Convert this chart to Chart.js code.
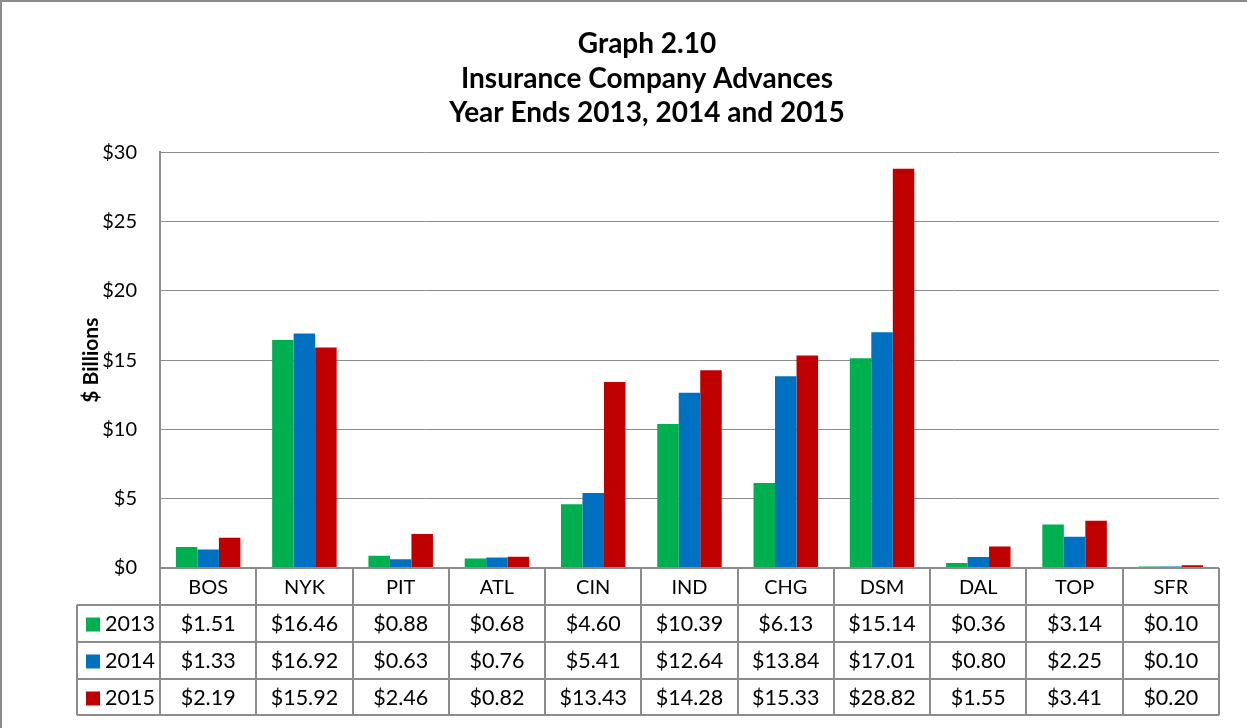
<!DOCTYPE html>
<html>
<head>
<meta charset="utf-8">
<script src="https://cdn.jsdelivr.net/npm/chart.js@4"></script>
<style>
	body { margin: 0; background: #fff; }
</style>
</head>
<body>
<canvas id="myCanvas" width="1247" height="728"></canvas>
<script>
let labels = ["BOS", "NYK", "PIT", "ATL", "CIN", "IND", "CHG", "DSM", "DAL", "TOP", "SFR"];
let years = ["2013", "2014", "2015"];
let list2013 = [1.51, 16.46, 0.88, 0.68, 4.6, 10.39, 6.13, 15.14, 0.36, 3.14, 0.1];
let list2014 = [1.33, 16.92, 0.63, 0.76, 5.41, 12.64, 13.84, 17.01, 0.8, 2.25, 0.1];
let list2015 = [2.19, 15.92, 2.46, 0.82, 13.43, 14.28, 15.33, 28.82, 1.55, 3.41, 0.2];
let yTicks = [0, 5, 10, 15, 20, 25, 30];

const fontName = "Lato";
const gridColor = "#8c8c8c";

// data table under the plot, drawn from the x scale
const tablePlugin = {
	id: "dataTable",
	afterDraw(chart) {
		const c = chart.ctx;
		const area = chart.chartArea;
		const xs = chart.scales.x;
		const n = labels.length;
		const w = (area.right - area.left) / n;
		const rowH = 37;
		const top = area.bottom;
		const legendLeft = 77;
		const bottom = top + rowH * 4 - 1;

		c.save();
		c.strokeStyle = gridColor;
		c.lineWidth = 2;
		c.beginPath();
		for (let i = 0; i <= n; i++) {
			const x = Math.round(area.left + i * w);
			c.moveTo(x, top);
			c.lineTo(x, bottom);
		}
		c.moveTo(area.left, top);
		c.lineTo(area.right, top);
		for (let r = 1; r <= 4; r++) {
			const y = Math.round(top + r * rowH - (r == 4 ? 1 : 0));
			c.moveTo(legendLeft, y);
			c.lineTo(area.right, y);
		}
		c.moveTo(legendLeft, top + rowH);
		c.lineTo(legendLeft, bottom);
		c.stroke();

		c.fillStyle = "#000";
		c.textAlign = "center";
		c.textBaseline = "middle";
		c.font = "20px " + fontName;
		labels.forEach((lab, i) => {
			c.fillText(lab, xs.getPixelForValue(i), top + rowH / 2 + 1);
		});
		c.font = "21.5px " + fontName;
		chart.data.datasets.forEach((ds, r) => {
			const y = top + rowH * (r + 1) + rowH / 2 + 1;
			ds.data.forEach((v, i) => {
				c.fillText("$" + v.toFixed(2), xs.getPixelForValue(i), y);
			});
			c.fillStyle = ds.backgroundColor;
			c.fillRect(86, y - 7, 14, 14);
			c.fillStyle = "#000";
			c.textAlign = "left";
			c.fillText(ds.label, 105, y);
			c.textAlign = "center";
		});

		// outer frame
		c.strokeStyle = "#8c8c8c";
		c.lineWidth = 2;
		c.beginPath();
		c.moveTo(1, 728);
		c.lineTo(1, 1);
		c.lineTo(1247, 1);
		c.stroke();
		c.restore();
	},
};

const ctx = document.getElementById("myCanvas").getContext("2d");
const myChart = new Chart(ctx, {
	type: "bar",
	data: {
		labels: labels,
		datasets: [
			{ label: years[0], data: list2013, backgroundColor: "#00b050" },
			{ label: years[1], data: list2014, backgroundColor: "#0070c0" },
			{ label: years[2], data: list2015, backgroundColor: "#c00000" },
		],
	},
	options: {
		responsive: false,
		animation: false,
		layout: {
			padding: { left: 75, right: 28, bottom: 160, top: 0 },
		},
		datasets: {
			bar: { categoryPercentage: 0.67, barPercentage: 1 },
		},
		plugins: {
			legend: { display: false },
			tooltip: { enabled: false },
			title: {
				display: true,
				text: ["Graph 2.10", "Insurance Company Advances", "Year Ends 2013, 2014 and 2015"],
				color: "#000",
				font: { family: fontName, size: 28, weight: "bold", lineHeight: 1.23 },
				padding: { top: 27, bottom: 22 },
			},
		},
		scales: {
			x: { display: false },
			y: {
				min: 0,
				max: 30,
				afterFit(scale) {
					scale.width = 85;
				},
				afterBuildTicks(scale) {
					scale.ticks = yTicks.map((v) => ({ value: v }));
				},
				grid: { color: gridColor, drawTicks: false, lineWidth: 1 },
				border: { color: gridColor, width: 2 },
				ticks: {
					padding: 23,
					color: "#000",
					font: { family: fontName, size: 20 },
					callback: function (value) {
						return "$" + value;
					},
				},
				title: {
					display: true,
					text: "$ Billions",
					color: "#000",
					font: { family: fontName, size: 21, weight: "bold" },
				},
			},
		},
	},
	plugins: [tablePlugin],
});
</script>
</body>
</html>
